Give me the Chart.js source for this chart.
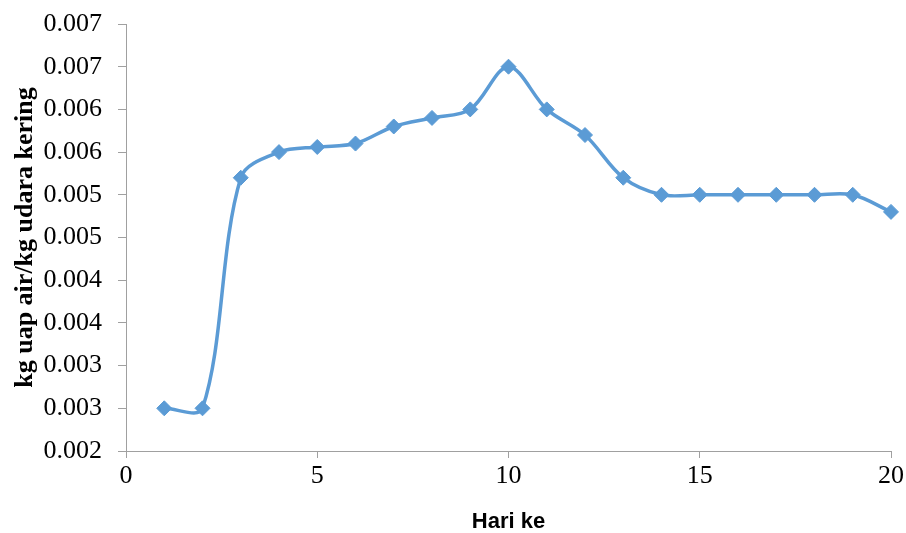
<!DOCTYPE html>
<html>
<head>
<meta charset="utf-8">
<script src="https://cdn.jsdelivr.net/npm/chart.js"></script>
<style>
  body { margin: 0; background: #fff; }
  canvas { display: block; }
</style>
</head>
<body>
<canvas id="myChart" width="906" height="533"></canvas>
<script>
// hari ke (x) dan kelembaban mutlak (y)
const hari = [1, 2, 3, 4, 5, 6, 7, 8, 9, 10, 11, 12, 13, 14, 15, 16, 17, 18, 19, 20]
const kelembaban = [0.0025, 0.0025, 0.0052, 0.0055, 0.00556, 0.0056, 0.0058, 0.0059, 0.0060, 0.0065,
  0.0060, 0.0057, 0.0052, 0.0050, 0.0050, 0.0050, 0.0050, 0.0050, 0.0050, 0.0048]
// label sumbu y dibulatkan 3 desimal seperti di Excel
const yTickLabels = ['0.002', '0.003', '0.003', '0.004', '0.004', '0.005', '0.005', '0.006', '0.006', '0.007', '0.007']

const ctx = document.getElementById('myChart')
const biru = '#5B9BD5'
const abu = '#a0a0a0'
const serif = 'Liberation Serif, Times New Roman, serif'

new Chart(ctx, {
  type: 'line',
  data: {
    datasets: [{
      data: hari.map((h, i) => ({ x: h, y: kelembaban[i] })),
      borderColor: biru,
      backgroundColor: biru,
      borderWidth: 3.5,
      tension: 0.33,
      pointStyle: 'rectRot',
      pointRadius: 7.5,
      pointBorderWidth: 1,
      pointBorderColor: biru,
      pointBackgroundColor: biru,
      clip: false
    }]
  },
  options: {
    responsive: false,
    animation: false,
    layout: { padding: { top: 24, right: 15, left: 0, bottom: 0 } },
    plugins: {
      legend: { display: false },
      tooltip: { enabled: false }
    },
    scales: {
      x: {
        type: 'linear',
        min: 0,
        max: 20,
        ticks: {
          stepSize: 5,
          padding: 3,
          color: '#000',
          font: { family: serif, size: 26 }
        },
        grid: { drawOnChartArea: false, color: abu, tickLength: 7 },
        border: { color: abu, width: 1 },
        title: {
          display: true,
          text: 'Hari ke',
          color: '#000',
          font: { family: 'Liberation Sans, Arial, sans-serif', size: 22, weight: 'bold', lineHeight: 1.0 },
          padding: { top: 0, bottom: 0 }
        },
        afterFit: (scale) => {
          scale.height = 82
          scale.paddingLeft = 0
          scale.paddingRight = 0
        }
      },
      y: {
        min: 0.002,
        max: 0.007,
        ticks: {
          stepSize: 0.0005,
          padding: 16,
          color: '#000',
          font: { family: serif, size: 26 },
          callback: (value, index) => yTickLabels[index]
        },
        grid: { drawOnChartArea: false, color: abu, tickLength: 8 },
        border: { color: abu, width: 1 },
        title: {
          display: true,
          text: 'kg uap air/kg udara kering',
          color: '#000',
          font: { family: serif, size: 26, weight: 'bold', lineHeight: 1.0 },
          padding: { top: 12, bottom: 0 }
        },
        afterFit: (scale) => {
          scale.width = 126
          scale.paddingTop = 0
          scale.paddingBottom = 0
        }
      }
    }
  }
})
</script>
</body>
</html>
